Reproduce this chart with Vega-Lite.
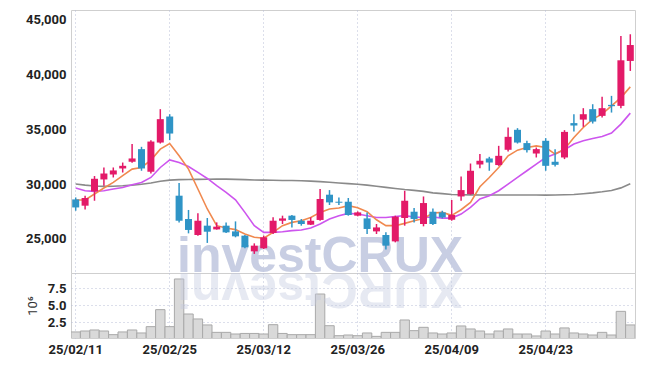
{
  "$schema": "https://vega.github.io/schema/vega-lite/v6.json",
  "background": "white",
  "padding": {"left": 25, "top": 9, "right": 10, "bottom": 0},
  "spacing": 0,
  "bounds": "flush",
  "datasets": {
    "d": [
      {"date": "25/02/11", "open": 28600, "high": 28780, "low": 27570, "close": 27870, "vol": 1.09, "ma5": 28550, "ma20": 29640, "ma120": 30000},
      {"date": "25/02/12", "open": 28030, "high": 28940, "low": 27690, "close": 28730, "vol": 1.23, "ma5": 28550, "ma20": 29390, "ma120": 29900},
      {"date": "25/02/13", "open": 29330, "high": 30730, "low": 28480, "close": 30480, "vol": 1.38, "ma5": 29090, "ma20": 29330, "ma120": 29820},
      {"date": "25/02/14", "open": 30420, "high": 31510, "low": 29850, "close": 30960, "vol": 1.23, "ma5": 29640, "ma20": 29390, "ma120": 29790},
      {"date": "25/02/17", "open": 30870, "high": 31510, "low": 30600, "close": 31240, "vol": 0.69, "ma5": 30150, "ma20": 29550, "ma120": 29800},
      {"date": "25/02/18", "open": 31420, "high": 31960, "low": 31050, "close": 31660, "vol": 1.09, "ma5": 30760, "ma20": 29690, "ma120": 29840},
      {"date": "25/02/19", "open": 32030, "high": 33640, "low": 31940, "close": 32330, "vol": 1.38, "ma5": 31360, "ma20": 29940, "ma120": 29900},
      {"date": "25/02/20", "open": 33180, "high": 33390, "low": 31210, "close": 31420, "vol": 0.94, "ma5": 31510, "ma20": 30150, "ma120": 29980},
      {"date": "25/02/21", "open": 31120, "high": 34000, "low": 30960, "close": 33870, "vol": 1.87, "ma5": 32180, "ma20": 30600, "ma120": 30100},
      {"date": "25/02/24", "open": 33780, "high": 36820, "low": 33690, "close": 35910, "vol": 4.37, "ma5": 33180, "ma20": 31510, "ma120": 30250},
      {"date": "25/02/25", "open": 36150, "high": 36360, "low": 34000, "close": 34600, "vol": 1.87, "ma5": 33690, "ma20": 32200, "ma120": 30360},
      {"date": "25/02/26", "open": 28940, "high": 30090, "low": 26510, "close": 26660, "vol": 8.88, "ma5": 32570, "ma20": 31960, "ma120": 30400},
      {"date": "25/02/27", "open": 26820, "high": 27640, "low": 25510, "close": 25820, "vol": 3.73, "ma5": 31360, "ma20": 31600, "ma120": 30420},
      {"date": "25/02/28", "open": 25360, "high": 27330, "low": 25300, "close": 26660, "vol": 3.0, "ma5": 29550, "ma20": 31060, "ma120": 30430},
      {"date": "25/03/04", "open": 26210, "high": 26910, "low": 24640, "close": 25660, "vol": 2.12, "ma5": 27730, "ma20": 30510, "ma120": 30440},
      {"date": "25/03/05", "open": 25870, "high": 26510, "low": 25850, "close": 26120, "vol": 1.03, "ma5": 26210, "ma20": 29850, "ma120": 30450},
      {"date": "25/03/06", "open": 26210, "high": 26510, "low": 25550, "close": 25600, "vol": 1.03, "ma5": 26000, "ma20": 29240, "ma120": 30450},
      {"date": "25/03/07", "open": 25690, "high": 26600, "low": 25150, "close": 25240, "vol": 0.79, "ma5": 25850, "ma20": 28570, "ma120": 30430},
      {"date": "25/03/10", "open": 25300, "high": 25360, "low": 24150, "close": 24240, "vol": 0.87, "ma5": 25460, "ma20": 27420, "ma120": 30400},
      {"date": "25/03/11", "open": 23870, "high": 24600, "low": 23640, "close": 24390, "vol": 0.87, "ma5": 25150, "ma20": 26210, "ma120": 30370},
      {"date": "25/03/12", "open": 24150, "high": 25300, "low": 24090, "close": 25150, "vol": 0.79, "ma5": 25060, "ma20": 25600, "ma120": 30360},
      {"date": "25/03/13", "open": 25550, "high": 26970, "low": 25450, "close": 26660, "vol": 2.16, "ma5": 25600, "ma20": 25600, "ma120": 30340},
      {"date": "25/03/14", "open": 26660, "high": 27120, "low": 26360, "close": 26870, "vol": 0.87, "ma5": 26210, "ma20": 25660, "ma120": 30330},
      {"date": "25/03/17", "open": 27120, "high": 27180, "low": 26050, "close": 26730, "vol": 0.69, "ma5": 26510, "ma20": 25760, "ma120": 30320},
      {"date": "25/03/18", "open": 26660, "high": 26820, "low": 26210, "close": 26360, "vol": 0.69, "ma5": 26660, "ma20": 25820, "ma120": 30300},
      {"date": "25/03/19", "open": 26300, "high": 26970, "low": 26270, "close": 26660, "vol": 0.69, "ma5": 26960, "ma20": 26000, "ma120": 30270},
      {"date": "25/03/20", "open": 26730, "high": 29550, "low": 26660, "close": 28640, "vol": 6.67, "ma5": 27420, "ma20": 26360, "ma120": 30220},
      {"date": "25/03/21", "open": 29030, "high": 29450, "low": 28090, "close": 28330, "vol": 2.01, "ma5": 27730, "ma20": 26820, "ma120": 30160},
      {"date": "25/03/24", "open": 28390, "high": 28780, "low": 28090, "close": 28300, "vol": 0.54, "ma5": 27820, "ma20": 27120, "ma120": 30100},
      {"date": "25/03/25", "open": 28390, "high": 28730, "low": 27120, "close": 27180, "vol": 0.64, "ma5": 28030, "ma20": 27330, "ma120": 30040},
      {"date": "25/03/26", "open": 27120, "high": 27510, "low": 27060, "close": 27420, "vol": 0.54, "ma5": 27840, "ma20": 27270, "ma120": 29980},
      {"date": "25/03/27", "open": 26870, "high": 27420, "low": 25450, "close": 25910, "vol": 0.94, "ma5": 27480, "ma20": 27120, "ma120": 29900},
      {"date": "25/03/28", "open": 25690, "high": 26360, "low": 25450, "close": 26050, "vol": 0.44, "ma5": 26750, "ma20": 26960, "ma120": 29800},
      {"date": "25/03/31", "open": 25360, "high": 25600, "low": 24030, "close": 24390, "vol": 1.03, "ma5": 26210, "ma20": 26960, "ma120": 29700},
      {"date": "25/04/01", "open": 24780, "high": 27120, "low": 24690, "close": 27030, "vol": 1.03, "ma5": 26210, "ma20": 27050, "ma120": 29600},
      {"date": "25/04/02", "open": 26910, "high": 29390, "low": 26210, "close": 28480, "vol": 2.85, "ma5": 26420, "ma20": 27120, "ma120": 29500},
      {"date": "25/04/03", "open": 27480, "high": 27820, "low": 26510, "close": 26820, "vol": 1.28, "ma5": 26660, "ma20": 27000, "ma120": 29420},
      {"date": "25/04/04", "open": 26360, "high": 28870, "low": 26150, "close": 28270, "vol": 1.77, "ma5": 26870, "ma20": 26960, "ma120": 29330},
      {"date": "25/04/07", "open": 27480, "high": 27780, "low": 26270, "close": 26360, "vol": 0.94, "ma5": 27360, "ma20": 27000, "ma120": 29200},
      {"date": "25/04/08", "open": 27420, "high": 27570, "low": 26870, "close": 26960, "vol": 0.79, "ma5": 27420, "ma20": 26900, "ma120": 29130},
      {"date": "25/04/09", "open": 26750, "high": 28550, "low": 26660, "close": 27180, "vol": 0.94, "ma5": 27150, "ma20": 26900, "ma120": 29050},
      {"date": "25/04/10", "open": 28870, "high": 30690, "low": 28480, "close": 29450, "vol": 1.97, "ma5": 27660, "ma20": 27270, "ma120": 29030},
      {"date": "25/04/11", "open": 29090, "high": 31870, "low": 29030, "close": 31210, "vol": 1.53, "ma5": 28330, "ma20": 27870, "ma120": 29010},
      {"date": "25/04/14", "open": 31780, "high": 32730, "low": 31450, "close": 32120, "vol": 1.23, "ma5": 29750, "ma20": 28640, "ma120": 29000},
      {"date": "25/04/15", "open": 32330, "high": 32480, "low": 31210, "close": 31960, "vol": 0.79, "ma5": 30600, "ma20": 28940, "ma120": 29000},
      {"date": "25/04/16", "open": 31730, "high": 33480, "low": 31660, "close": 32570, "vol": 1.23, "ma5": 31510, "ma20": 29390, "ma120": 29000},
      {"date": "25/04/17", "open": 33120, "high": 35150, "low": 32960, "close": 34300, "vol": 1.53, "ma5": 32570, "ma20": 30000, "ma120": 29000},
      {"date": "25/04/18", "open": 34940, "high": 35090, "low": 33690, "close": 33780, "vol": 0.79, "ma5": 33090, "ma20": 30600, "ma120": 29000},
      {"date": "25/04/21", "open": 33730, "high": 33940, "low": 32870, "close": 33090, "vol": 0.79, "ma5": 33330, "ma20": 31210, "ma120": 29000},
      {"date": "25/04/22", "open": 32780, "high": 33330, "low": 32420, "close": 33180, "vol": 0.5, "ma5": 33480, "ma20": 31820, "ma120": 29000},
      {"date": "25/04/23", "open": 33940, "high": 34180, "low": 31210, "close": 31660, "vol": 1.23, "ma5": 33330, "ma20": 32420, "ma120": 28990},
      {"date": "25/04/24", "open": 32030, "high": 33180, "low": 31600, "close": 31750, "vol": 0.79, "ma5": 32730, "ma20": 32730, "ma120": 29000},
      {"date": "25/04/25", "open": 32420, "high": 34910, "low": 32270, "close": 34750, "vol": 1.68, "ma5": 33180, "ma20": 33120, "ma120": 29020},
      {"date": "25/04/28", "open": 35550, "high": 36360, "low": 34780, "close": 35330, "vol": 0.94, "ma5": 34240, "ma20": 33640, "ma120": 29050},
      {"date": "25/04/29", "open": 35870, "high": 36910, "low": 35210, "close": 36360, "vol": 0.79, "ma5": 35150, "ma20": 33940, "ma120": 29120},
      {"date": "25/04/30", "open": 36820, "high": 37270, "low": 35510, "close": 35690, "vol": 0.64, "ma5": 35910, "ma20": 34150, "ma120": 29200},
      {"date": "25/05/02", "open": 36210, "high": 37960, "low": 36050, "close": 36910, "vol": 1.03, "ma5": 36360, "ma20": 34330, "ma120": 29300},
      {"date": "25/05/07", "open": 37210, "high": 38030, "low": 36510, "close": 37090, "vol": 0.64, "ma5": 37120, "ma20": 34640, "ma120": 29420},
      {"date": "25/05/08", "open": 37120, "high": 43480, "low": 36910, "close": 41270, "vol": 4.12, "ma5": 37870, "ma20": 35460, "ma120": 29650},
      {"date": "25/05/09", "open": 41210, "high": 43640, "low": 40300, "close": 42660, "vol": 2.12, "ma5": 38850, "ma20": 36460, "ma120": 30030}
    ]
  },
  "vconcat": [
    {
      "width": 564,
      "height": 263,
      "encoding": {
        "x": {
          "field": "date", "type": "ordinal", "sort": "ascending",
          "scale": {"type": "band", "paddingInner": 0, "paddingOuter": 0},
          "axis": {"labels": false, "ticks": false, "domain": false, "grid": true, "title": null, "bandPosition": 0.5,
                   "values": ["25/02/11", "25/02/25", "25/03/12", "25/03/26", "25/04/09", "25/04/23"]}
        }
      },
      "layer": [
        {
          "data": {"values": [{}]},
          "mark": {"type": "text", "text": "investCRUX", "font": "Liberation Sans", "fontWeight": "bold", "fontSize": 50, "fill": "#c3c9e0", "opacity": 0.9, "align": "center", "baseline": "alphabetic"},
          "encoding": {"x": {"datum": "25/03/20"}, "y": {"datum": 22000, "type": "quantitative"}}
        },
        {
          "data": {"name": "d"},
          "mark": {"type": "line", "color": "#8a8a8a", "strokeWidth": 1.6},
          "encoding": {
            "y": {"field": "ma120", "type": "quantitative",
                  "scale": {"domain": [21900, 45850], "nice": false, "zero": false},
                  "axis": {"values": [25000, 30000, 35000, 40000, 45000], "tickCount": 10, "format": ",d", "title": null, "ticks": false, "domain": false, "labelPadding": 5}}
          }
        },
        {
          "data": {"name": "d"},
          "mark": {"type": "line", "color": "#cd55ee", "strokeWidth": 1.6},
          "encoding": {"y": {"field": "ma20", "type": "quantitative"}}
        },
        {
          "data": {"name": "d"},
          "mark": {"type": "line", "color": "#f0894f", "strokeWidth": 1.6},
          "encoding": {"y": {"field": "ma5", "type": "quantitative"}}
        },
        {
          "data": {"name": "d"},
          "mark": {"type": "rule", "strokeWidth": 1.5},
          "encoding": {
            "y": {"field": "low", "type": "quantitative"},
            "y2": {"field": "high"},
            "color": {"condition": {"test": "datum.close >= datum.open", "value": "#e31a68"}, "value": "#2f94c6"}
          }
        },
        {
          "data": {"name": "d"},
          "mark": {"type": "bar", "width": 7},
          "encoding": {
            "y": {"field": "open", "type": "quantitative"},
            "y2": {"field": "close"},
            "color": {"condition": {"test": "datum.close >= datum.open", "value": "#e31a68"}, "value": "#2f94c6"}
          }
        }
      ]
    },
    {
      "width": 564,
      "height": 65,
      "encoding": {
        "x": {
          "field": "date", "type": "ordinal", "sort": "ascending",
          "scale": {"type": "band", "paddingInner": 0, "paddingOuter": 0},
          "axis": {"grid": true, "title": null, "ticks": false, "domain": false, "labelAngle": 0, "labelPadding": 5, "bandPosition": 0.5,
                   "values": ["25/02/11", "25/02/25", "25/03/12", "25/03/26", "25/04/09", "25/04/23"]}
        }
      },
      "layer": [
        {
          "data": {"name": "d"},
          "mark": {"type": "bar", "fill": "#d9d9d9", "stroke": "#a9a9a9", "strokeWidth": 1, "clip": true},
          "encoding": {
            "y": {"field": "vol", "type": "quantitative",
                  "scale": {"domain": [0.2, 9.76], "nice": false, "zero": false},
                  "axis": {"values": [2.5, 5, 7.5], "tickCount": 10, "format": ".1f", "title": "10⁶", "ticks": false, "domain": false, "labelPadding": 5, "labelOverlap": false, "labelFontSize": 13, "titleAnchor": "middle", "titleFontWeight": "normal", "titleFontSize": 13, "titlePadding": 8}}
          }
        },
        {
          "data": {"values": [{}]},
          "mark": {"type": "text", "text": "XURCtsevni", "font": "Liberation Sans", "fontWeight": "bold", "fontSize": 50, "fill": "#c3c9e0", "opacity": 0.4, "angle": 180, "align": "center", "baseline": "alphabetic"},
          "encoding": {"x": {"datum": "25/03/20"}, "y": {"datum": 9.76, "type": "quantitative"}}
        }
      ]
    }
  ],
  "config": {
    "view": {"stroke": "#cfcfcf", "strokeWidth": 1},
    "axisY": {"labelOverlap": false},
    "axis": {
      "labelFont": "Roboto",
      "titleFont": "Roboto",
      "labelFontSize": 13,
      "labelFontWeight": "bold",
      "labelColor": "#222222",
      "titleColor": "#333333",
      "gridColor": "#b9bed6",
      "gridDash": [1, 3],
      "gridWidth": 1
    }
  }
}
